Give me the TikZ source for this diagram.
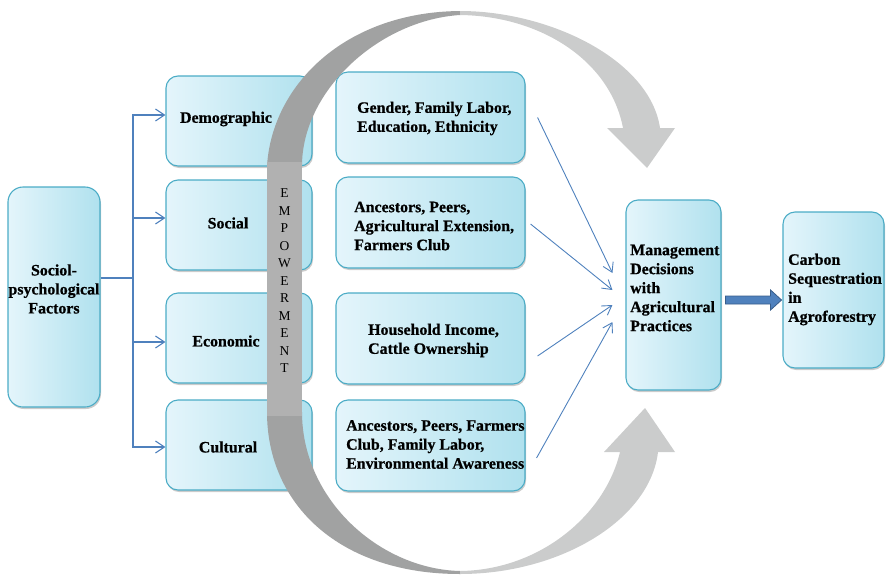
\documentclass[tikz,border=0pt]{standalone}
\usepackage{fontspec}
\setmainfont{Liberation Serif}[BoldFont={Liberation Serif Bold}, BoldFeatures={FakeBold=0.7}]
\usetikzlibrary{arrows.meta,shadows}
\definecolor{boxL}{RGB}{228,245,251}
\definecolor{boxR}{RGB}{176,225,238}
\definecolor{boxB}{RGB}{75,172,198}
\definecolor{lnB}{RGB}{79,129,189}
\definecolor{gDark}{RGB}{161,162,162}
\definecolor{gLight}{RGB}{203,204,204}
\definecolor{gMid}{RGB}{177,177,177}
\definecolor{arrB}{RGB}{56,93,138}
\begin{document}
\begin{tikzpicture}[x=1pt,y=-1pt,
  box/.style={draw=boxB, line width=1.1pt, rounded corners=12pt,
    left color=boxL, right color=boxR, inner sep=0pt,
    drop shadow={shadow xshift=1pt,shadow yshift=-2pt,fill=black!45,opacity=.45}},
  colbox/.style={box, minimum width=146pt, minimum height=90pt},
  midbox/.style={box, minimum width=189pt, minimum height=91pt},
  txt/.style={font=\bfseries\fontsize{15.9}{19}\selectfont, inner sep=0pt, align=left},
  conn/.style={draw=lnB, line width=1.1pt, -{Straight Barb[length=9pt,width=12pt]}},
  thin/.style={draw=lnB, line width=0.9pt, -{Straight Barb[length=9pt,width=11pt]}},
  fatarr/.style={draw=arrB, fill=lnB, line width=0.8pt},
  uparr/.style={insert path={(267,166) .. controls (272,85) and (345,12) .. (460,11)
     .. controls (550,11) and (650,60) .. (660,128) -- (675,128) -- (647,168) -- (607,128) -- (623,128)
     .. controls (610,60) and (540,16) .. (460,15) .. controls (380,20) and (302,90) .. (302,166) -- cycle}},
  loarr/.style={insert path={(267,412) .. controls (267,505) and (340,574) .. (460,574)
     .. controls (560,574) and (650,520) .. (658,452) -- (675,452) -- (645,408) -- (604,452) -- (620,452)
     .. controls (605,515) and (540,570) .. (460,571) .. controls (380,569) and (302,500) .. (302,412) -- cycle}}
]
\useasboundingbox (0,0) rectangle (886,576);

% boxes
\node[box, minimum width=92pt, minimum height=220pt, rounded corners=15pt] (soc) at (54,297) {};
\node[colbox] (dem) at (239,121) {};
\node[colbox] (socl) at (239,225) {};
\node[colbox] (eco) at (239,338) {};
\node[colbox] (cul) at (239,445) {};
\node[midbox] (m1) at (430.5,117.5) {};
\node[midbox] (m2) at (430.5,222.5) {};
\node[midbox] (m3) at (430.5,338.5) {};
\node[midbox] (m4) at (430.5,445.5) {};
\node[box, minimum width=95pt, minimum height=190pt] (mgmt) at (673.5,295) {};
\node[box, minimum width=101pt, minimum height=156pt] (carb) at (833.5,290) {};

% texts
\node[txt, align=center] (tsoc) at (54,289) {Sociol-\\psychological\\Factors};
\node[txt] (tdem) at (226,119) {Demographic};
\node[txt] (tsocl) at (228,223) {Social};
\node[txt] (teco) at (226,341) {Economic};
\node[txt] (tcul) at (228,447) {Cultural};
\node[txt, anchor=west] (t1) at (357,118.5) {Gender, Family Labor,\\Education, Ethnicity};
\node[txt, anchor=west] (t2) at (354,226) {Ancestors, Peers,\\Agricultural Extension,\\Farmers Club};
\node[txt, anchor=west] (t3) at (368,340.5) {Household Income,\\Cattle Ownership};
\node[txt, anchor=west] (t4) at (346,444.5) {Ancestors, Peers, Farmers\\Club, Family Labor,\\Environmental Awareness};
\node[txt, anchor=west] (tm) at (630,288) {Management\\Decisions\\with\\Agricultural\\Practices};
\node[txt, anchor=west] (tc) at (788,289.5) {Carbon\\Sequestration\\in\\Agroforestry};

% connectors from socio box
\coordinate (j) at (133,278);
\draw[lnB, line width=1.1pt] (soc.east |- j) -- (j);
\draw[conn] (j) |- ([yshift=6pt]dem.west);
\draw[conn] (j) |- ([yshift=7pt]socl.west);
\draw[conn] (j) |- ([yshift=-4pt]eco.west);
\draw[conn] (j) |- ([yshift=-2pt]cul.west);

% connectors to management
\draw[thin] ([xshift=12pt]m1.east) -- ([xshift=-13pt,yshift=22pt]mgmt.west);
\draw[thin] ([xshift=5pt,yshift=-1.5pt]m2.east) -- ([xshift=-13pt,yshift=5pt]mgmt.west);
\draw[thin] ([xshift=12pt,yshift=-17.5pt]m3.east) -- ([xshift=-13pt,yshift=-10pt]mgmt.west);
\draw[thin] ([xshift=11pt,yshift=-12.5pt]m4.east) -- ([xshift=-13pt,yshift=-27pt]mgmt.west);

% fat arrow
\draw[fatarr] ([xshift=4pt,yshift=-5pt]mgmt.east) ++(0,-4) -- ++(45,0) -- ++(0,-6) -- ++(11,10)
   -- ++(-11,10) -- ++(0,-6) -- ++(-45,0) -- cycle;

% big gray circular arrows
\begin{scope}
  \clip (0,0) rectangle (460,576);
  \fill[gDark, uparr];
  \fill[gDark, loarr];
\end{scope}
\begin{scope}
  \clip (460,0) rectangle (886,576);
  \fill[gLight, uparr];
  \fill[gLight, loarr];
\end{scope}
\fill[gMid] (267,162) rectangle (302,416);
\node[font=\fontsize{13.5}{17.5}\selectfont, align=center, inner sep=0pt] (emp) at (284.5,281)
  {E\\M\\P\\O\\W\\E\\R\\M\\E\\N\\T};
\end{tikzpicture}
\end{document}
